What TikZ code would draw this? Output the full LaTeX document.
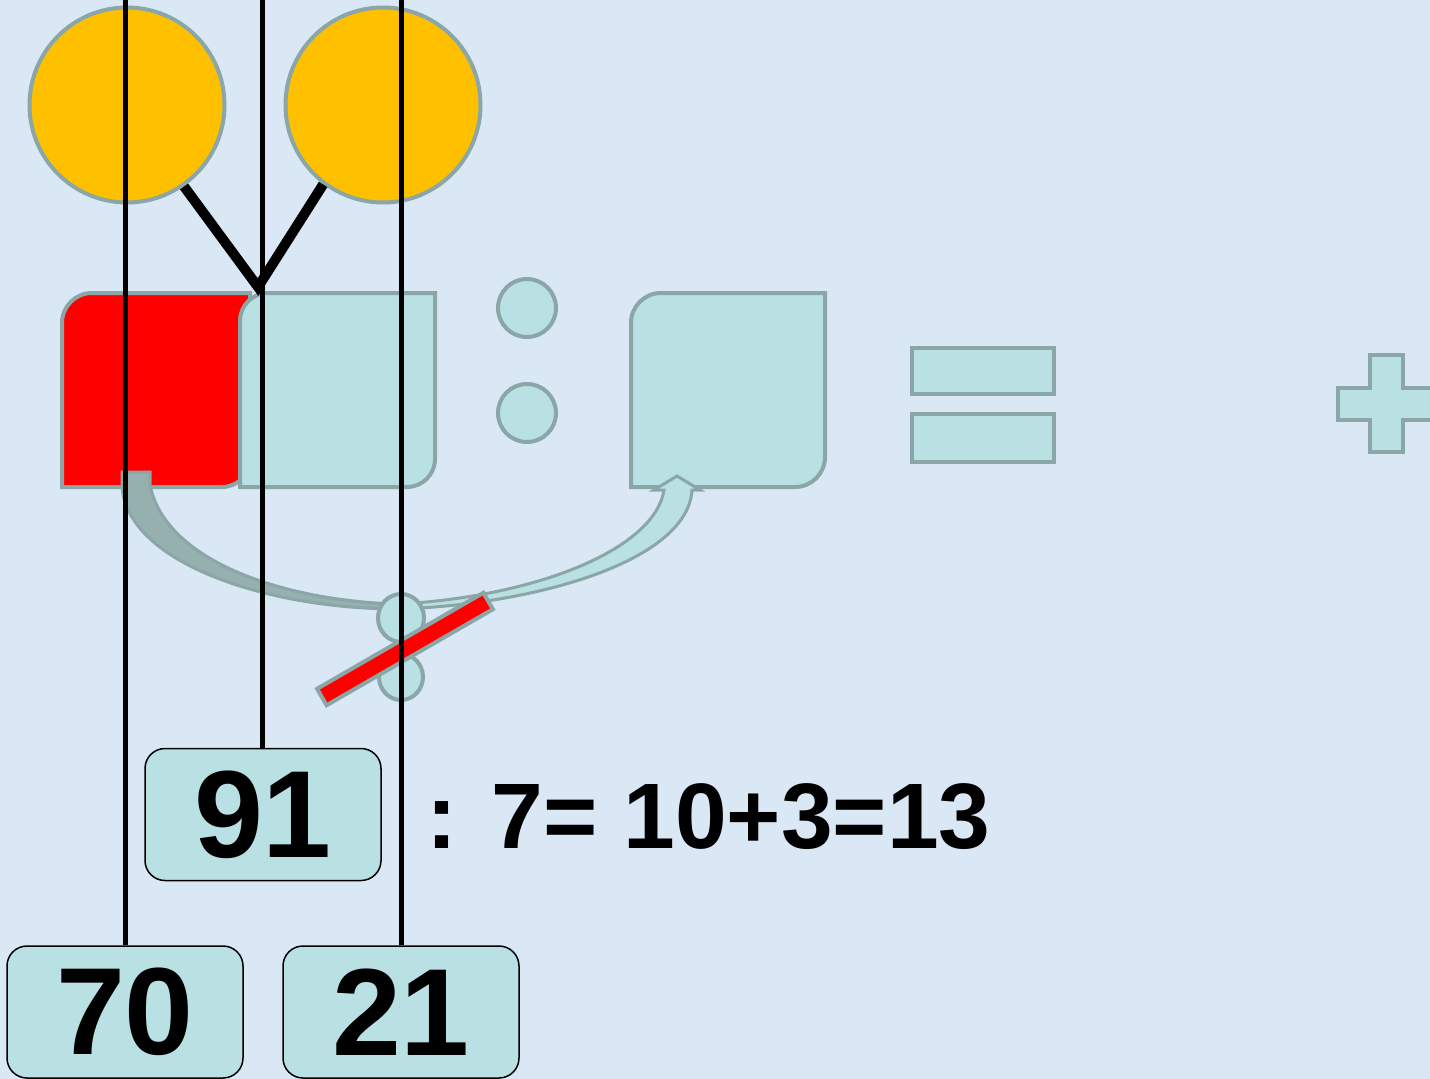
\documentclass[tikz,border=0pt]{standalone}
\usepackage{fontspec}
\setmainfont{Liberation Sans}
\definecolor{bg}{RGB}{218,232,246}
\definecolor{edge}{RGB}{138,166,166}
\definecolor{aqua}{RGB}{185,224,226}
\definecolor{gold}{RGB}{255,192,0}
\definecolor{bandgray}{RGB}{150,176,176}
\begin{document}
\begin{tikzpicture}[x=1pt,y=1pt,
  shp/.style={draw=edge,line width=4pt,fill=aqua},
  numbox/.style={draw=black,line width=1.5pt,fill=aqua,rounded corners=20pt,minimum width=236pt,minimum height=132pt,inner sep=0pt,font=\fontsize{124}{124}\selectfont\bfseries},
  vline/.style={line width=5pt,black},
  vee/.style={line width=10pt,black,line join=miter},
  ball/.style={circle,draw=edge,line width=4pt,fill=gold,minimum size=195pt,inner sep=0pt}]
\useasboundingbox (0,0) rectangle (1430,-1079);
\fill[bg] (0,0) rectangle (1430,-1079);
\clip (0,0) rectangle (1430,-1079);

% squares
\filldraw[shp,fill=red] (62,-487) -- (62,-323) arc[start angle=180,end angle=90,radius=30pt] -- (250,-293) -- (250,-459) arc[start angle=0,end angle=-90,radius=28pt] -- cycle;
\filldraw[shp] (240,-487) -- (240,-321) arc[start angle=180,end angle=90,radius=28pt] -- (435,-293) -- (435,-459) arc[start angle=0,end angle=-90,radius=28pt] -- cycle;
\filldraw[shp] (631,-487) -- (631,-323) arc[start angle=180,end angle=90,radius=30pt] -- (825,-293) -- (825,-457) arc[start angle=0,end angle=-90,radius=30pt] -- cycle;

% colon
\filldraw[shp] (527,-308) circle[radius=29pt];
\filldraw[shp] (527,-413) circle[radius=29pt];

% equals
\filldraw[shp] (912,-348) rectangle (1054,-394);
\filldraw[shp] (912,-414) rectangle (1054,-462);

% plus
\filldraw[shp] (1370,-355) -- (1403,-355) -- (1403,-388) -- (1440,-388) -- (1440,-420) -- (1403,-420) -- (1403,-452) -- (1370,-452) -- (1370,-420) -- (1338,-420) -- (1338,-388) -- (1370,-388) -- cycle;

% curved arrow
\filldraw[draw=edge,line width=3pt,fill=bandgray] (122,-472) -- (150,-472) -- (150,-485) .. controls (165,-560) and (280,-600) .. (395,-604) -- (395,-609) .. controls (260,-608) and (125,-560) .. (122,-485) -- cycle;
\filldraw[draw=edge,line width=3pt,fill=aqua] (400,-609) .. controls (540,-604) and (688,-560) .. (692,-490) -- (700,-490) -- (677,-476) -- (654,-490) -- (664,-490) .. controls (655,-548) and (540,-596) .. (400,-604) -- cycle;

% crossed colon
\filldraw[shp] (401,-677) ellipse[x radius=22pt,y radius=23pt];
\filldraw[shp] (401,-618) ellipse[x radius=23pt,y radius=24pt];
\node[draw=edge,line width=4pt,fill=red,rotate=30,minimum width=192pt,minimum height=19pt,inner sep=0pt] (bar) at (405,-649) {};

% top circles
\node[ball] (c1) at (127,-105) {};
\node[ball] (c2) at (383,-105) {};
\coordinate (v) at (258,-287);
\draw[vee] (c1.-55) -- (v) -- (c2.-127);

% number boxes
\node[numbox] (b91) at (263,-814.5) {91};
\node[numbox] (b70) at (125,-1012) {70};
\node[numbox] (b21) at (401,-1012) {21};

\node[anchor=base west,font=\fontsize{93}{93}\selectfont\bfseries,inner sep=0pt] (eq) at (426,-848) {: 7= 10+3=13};

% vertical lines
\coordinate (t1) at (125,0);
\coordinate (t2) at (262,0);
\coordinate (t3) at (401,0);
\draw[vline] (t1) -- (b70.north);
\draw[vline] (t2) -- (b91.north -| t2);
\draw[vline] (t3) -- (b21.north);
\end{tikzpicture}
\end{document}
